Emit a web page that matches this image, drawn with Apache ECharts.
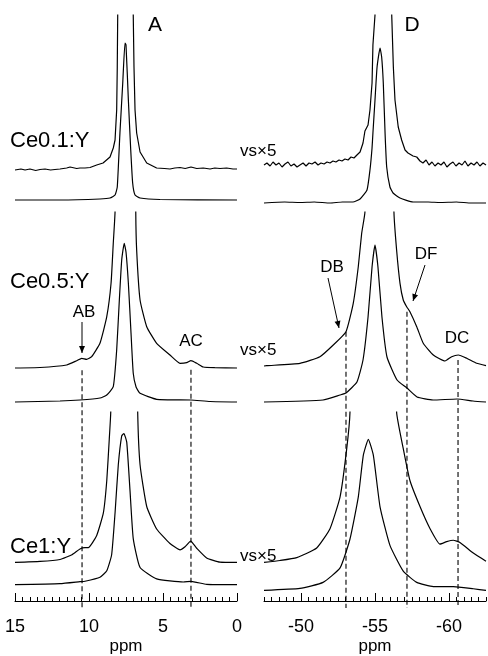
<!DOCTYPE html>
<html>
<head>
<meta charset="utf-8">
<script src="https://cdn.jsdelivr.net/npm/echarts@6/dist/echarts.min.js"></script>
<style>
  html, body { margin: 0; padding: 0; background: #fff; }
  #main { width: 488px; height: 656px; }
</style>
</head>
<body>
<div id="main"></div>
<script>
// spectra: [ppm, intensity]; "Scaled" = vertical scale x5 trace
var a1Normal = [[15,0],[11.96,0],[9.26,1],[8.58,2],[8.24,5],[8.09,13],[7.91,67],[7.72,117],[7.57,157],[7.50,155],[7.34,100],[7.18,50],[7.05,17],[6.89,5],[6.55,2],[5.2,0.5],[0,0]];
var a1Scaled = [[15,0],[14.6,1],[14.32,0],[13.99,1],[13.6,-0.5],[13.31,0.5],[12.97,1],[12.6,0],[12.30,0.5],[11.96,1],[11.51,2],[11.28,3],[10.83,1.5],[10.61,2],[10.27,2],[9.93,2.5],[9.48,5],[9.05,7],[8.58,13],[8.36,22],[8.24,30],[8.13,60],[8.09,103],[8.06,155],[8.04,230],[7.53,900],[7.03,230],[7.01,155],[6.96,103],[6.89,60],[6.78,37],[6.55,18],[6.10,7],[5.43,2],[4.9,1.5],[4.53,1],[4.2,2],[3.85,2.5],[3.5,1.5],[3.11,3],[2.72,1.5],[2.28,2],[1.82,1],[1.5,2],[1.15,1.5],[0.7,2],[0.27,1],[0,1]];
var d1Normal = [[-47.5,0],[-48.9,1],[-49.93,0.5],[-50.9,1],[-51.96,0],[-52.8,1],[-53.51,1],[-53.99,4],[-54.46,13],[-54.66,33],[-54.80,55],[-54.86,70],[-55.00,103],[-55.14,136],[-55.34,155],[-55.45,146],[-55.56,120],[-55.68,70],[-55.79,36],[-56.01,16],[-56.22,10],[-56.69,5],[-57.57,1],[-58.6,1],[-59.39,0.5],[-60.5,1],[-61.5,0],[-62.5,0]];
var d1Scaled = [[-47.5,0],[-47.70,2],[-47.91,-1],[-48.11,3],[-48.31,0],[-48.51,2],[-48.72,-2],[-48.92,1],[-49.12,3],[-49.32,-1],[-49.53,1],[-49.73,-2],[-49.93,0],[-50.14,2],[-50.34,-1],[-50.54,2],[-50.74,1],[-50.95,3],[-51.15,0],[-51.35,2],[-51.56,1],[-51.76,3],[-51.96,2],[-52.16,4],[-52.36,3],[-52.57,5],[-52.77,4],[-52.97,6],[-53.18,5],[-53.38,8],[-53.58,7],[-53.78,10],[-53.99,13],[-54.19,22],[-54.32,34],[-54.53,40],[-54.66,55],[-54.80,82],[-54.86,120],[-55.00,150],[-55.03,230],[-55.5,900],[-56.10,230],[-56.13,150],[-56.24,98],[-56.35,65],[-56.57,38],[-56.80,25],[-57.03,15],[-57.23,12],[-57.36,13],[-57.57,9],[-57.82,8],[-58.04,4],[-58.24,2],[-58.45,5],[-58.65,0],[-58.85,3],[-59.05,-1],[-59.26,2],[-59.46,0],[-59.66,3],[-59.86,-2],[-60.07,1],[-60.27,3],[-60.47,-1],[-60.68,2],[-60.88,0],[-61.08,4],[-61.28,-1],[-61.49,2],[-61.69,0],[-61.89,3],[-62.09,-1],[-62.30,2],[-62.5,0]];
var a2Normal = [[15,0],[11.96,1],[10.61,2],[9.26,4],[8.80,7],[8.36,15.3],[8.13,52],[7.95,102],[7.79,142],[7.62,158.7],[7.50,150],[7.34,118.7],[7.16,68.7],[7.01,28.7],[6.82,15],[6.55,8.7],[5.43,2.7],[3.11,2],[1.82,0.5],[0,0]];
var a2Scaled = [[15,0],[13.31,0.5],[11.51,3],[10.83,7.3],[10.49,9.7],[10.16,8.7],[9.82,11.3],[9.26,24.7],[8.80,51.3],[8.51,84.7],[8.36,124.7],[8.24,156],[8.22,230],[7.60,900],[6.85,230],[6.84,156],[6.78,118],[6.55,68],[6.10,41.3],[5.43,24.7],[4.53,13],[3.85,4.7],[3.40,5.3],[3.11,7.3],[2.72,4.7],[2.28,1],[1.5,0.3],[0,0]];
var d2Normal = [[-47.5,0],[-51.49,2],[-52.64,7],[-53.04,9],[-53.78,20],[-54.19,42],[-54.53,85],[-54.80,135],[-55.00,157],[-55.20,135],[-55.47,85],[-55.81,45],[-56.49,22],[-57.16,14],[-57.84,5],[-58.92,2],[-60.54,3],[-61.62,1],[-62.5,0]];
var d2Scaled = [[-47.5,0],[-47.68,0.3],[-49.93,2.7],[-51.28,9.3],[-52.18,21],[-53.04,34.3],[-53.53,62.7],[-53.87,99.3],[-54.10,132.7],[-54.32,154],[-54.34,230],[-55.30,900],[-56.26,230],[-56.28,154],[-56.46,116],[-56.69,82.7],[-56.91,66],[-57.14,59.3],[-57.36,54.3],[-57.82,39.3],[-58.26,22.7],[-58.94,11],[-59.73,5],[-60.18,9.3],[-60.63,11],[-61.20,7.7],[-61.87,2.7],[-62.5,0.3]];
var a3Normal = [[15,0],[11.96,1],[10.61,3],[10.27,3.5],[9.26,7.7],[8.80,14.3],[8.47,31],[8.24,74.3],[8.02,124.3],[7.79,154.3],[7.64,156.7],[7.45,147.7],[7.23,97.7],[7.01,47.7],[6.55,17.7],[5.43,6],[3.63,2.7],[3.11,3.3],[2.05,0.3],[0,0]];
var a3Scaled = [[15,0],[13.31,1],[11.96,3],[11.15,8],[10.61,14],[10.27,15.3],[10.05,15.3],[9.48,28],[9.03,51.3],[8.80,84.7],[8.63,128],[8.53,156],[8.51,230],[7.60,900],[6.73,230],[6.71,156],[6.55,101.3],[6.10,58],[5.43,34.7],[4.53,19.7],[3.85,13],[3.51,16.3],[3.13,22],[2.72,14.7],[2.05,4.7],[1.15,0.3],[0,0]];
var d3Normal = [[-47.5,0],[-49.93,2],[-51.49,8.3],[-52.64,23.3],[-53.31,53.3],[-53.87,96.7],[-54.21,140],[-54.55,156.7],[-54.89,140],[-55.34,86.7],[-56.01,46.7],[-56.91,20],[-57.82,8.3],[-58.94,4],[-60.29,4],[-61.64,1.7],[-62.5,0]];
var d3Scaled = [[-47.5,0],[-48.58,2],[-49.71,5],[-51.06,15],[-51.96,35],[-52.64,68],[-53.09,118],[-53.31,156],[-53.33,230],[-54.90,1200],[-56.44,230],[-56.46,156],[-56.91,118],[-57.36,85],[-58.04,58],[-58.72,35],[-59.39,19],[-59.84,21.5],[-60.29,23],[-60.74,20.7],[-61.64,9.7],[-62.5,1.3]];

// axis ranges and tick labels
var rangeA = [0, 15];
var rangeD = [-62.5, -47.5];
var labelsA = [15, 10, 5, 0];
var labelsD = [-50, -55, -60];

// marker lines: ppm and the scaled-trace level where the dashes start
var markersA = [{ppm: 10.47, level: 9.7, gap: 12}, {ppm: 3.11, level: 7.3, gap: 9}];
var markersD = [{ppm: -53.04, level: 34.3, gap: 0}, {ppm: -57.16, level: 59.3, gap: 5}, {ppm: -60.61, level: 11, gap: 5}];

var rowNames = ['Ce0.1:Y', 'Ce0.5:Y', 'Ce1:Y'];

var chart = echarts.init(document.getElementById('main'));
var font = '"Liberation Sans", Arial, Helvetica, sans-serif';

var traces = [[a1Normal, a1Scaled], [d1Normal, d1Scaled], [a2Normal, a2Scaled], [d2Normal, d2Scaled], [a3Normal, a3Scaled], [d3Normal, d3Scaled]];
var noisy = [a1Scaled, d1Scaled];
// per panel: top (clip), bottom, baseline of normal and of x5 trace (pixels)
var panels = [
  {left: 15, top: 15, bottom: 204, base: 200, sbase: 170},
  {left: 264, top: 15, bottom: 207, base: 203, sbase: 165},
  {left: 15, top: 212, bottom: 406, base: 402, sbase: 368},
  {left: 264, top: 212, bottom: 406, base: 402, sbase: 366},
  {left: 15, top: 412, bottom: 608, base: 591, sbase: 568},
  {left: 264, top: 412, bottom: 608, base: 597, sbase: 568}
];

function halfSteps(r) {
  var out = [];
  for (var v = r[0]; v <= r[1] + 1e-9; v += 0.5) out.push(Math.round(v * 10) / 10);
  return out;
}

var grid = [], xAxis = [], yAxis = [], series = [];
panels.forEach(function (p, g) {
  var isD = g % 2 === 1;
  var range = isD ? rangeD : rangeA;
  var bottomRow = g >= 4;
  grid.push({left: p.left, width: 222, top: p.top, height: p.bottom - p.top});
  var ax = {
    type: 'value', gridIndex: g, min: range[0], max: range[1], inverse: true,
    show: bottomRow, position: 'bottom', splitLine: {show: false}
  };
  if (bottomRow) {
    ax.axisLine = {show: true, onZero: false, lineStyle: {color: '#000', width: 1}};
    ax.axisTick = {show: true, inside: true, length: 8, customValues: isD ? labelsD : labelsA, lineStyle: {color: '#000'}};
    ax.axisLabel = {show: true, customValues: isD ? labelsD : labelsA, color: '#000', fontSize: 18, fontFamily: font, margin: 17};
    ax.name = 'ppm';
    ax.nameLocation = 'middle';
    ax.nameGap = 37;
    ax.nameTextStyle = {color: '#000', fontSize: 17, fontFamily: font};
  }
  xAxis.push(ax);
  yAxis.push({type: 'value', gridIndex: g, show: false, min: -(p.bottom - p.base), max: p.base - p.top});
  yAxis.push({type: 'value', gridIndex: g, show: false, min: -(p.bottom - p.sbase), max: p.sbase - p.top});
  traces[g].forEach(function (d, k) {
    series.push({
      type: 'line', xAxisIndex: g, yAxisIndex: 2 * g + k, data: d,
      showSymbol: false, smooth: noisy.indexOf(d) >= 0 ? false : 0.15, clip: true,
      lineStyle: {color: '#000', width: 1.2}
    });
  });
});
// minor ticks (every 0.5 ppm) on the two bottom axes
[4, 5].forEach(function (g) {
  var range = g === 5 ? rangeD : rangeA;
  xAxis.push({
    type: 'value', gridIndex: g, min: range[0], max: range[1], inverse: true, position: 'bottom',
    axisLine: {show: false, onZero: false}, splitLine: {show: false},
    axisTick: {show: true, inside: true, length: 4, customValues: halfSteps(range), lineStyle: {color: '#000'}},
    axisLabel: {show: false}
  });
});

chart.setOption({
  animation: false,
  backgroundColor: '#fff',
  grid: grid, xAxis: xAxis, yAxis: yAxis, series: series
});

// annotations
var graphics = [];
function text(str, x, y, size, align) {
  graphics.push({type: 'text', x: x, y: y, silent: true,
    style: {text: str, font: size + 'px ' + font, fill: '#000', align: align || 'center', verticalAlign: 'middle'}});
}
function arrow(x1, y1, x2, y2) {
  graphics.push({type: 'line', silent: true, shape: {x1: x1, y1: y1, x2: x2, y2: y2}, style: {stroke: '#000', lineWidth: 1}});
  var ang = Math.atan2(y2 - y1, x2 - x1), L = 7, W = 3;
  var bx = x2 - L * Math.cos(ang), by = y2 - L * Math.sin(ang);
  graphics.push({type: 'polygon', silent: true, shape: {points: [
    [x2, y2], [bx + W * Math.sin(ang), by - W * Math.cos(ang)], [bx - W * Math.sin(ang), by + W * Math.cos(ang)]
  ]}, style: {fill: '#000'}});
}
function dashes(markers, xIdx, seriesIdx) {
  var yEnd = panels[4].bottom;
  markers.forEach(function (m) {
    var pt = chart.convertToPixel({seriesIndex: seriesIdx}, [m.ppm, m.level]);
    var x = chart.convertToPixel({xAxisIndex: xIdx}, m.ppm);
    graphics.push({type: 'line', silent: true, shape: {x1: x, y1: pt[1] + m.gap, x2: x, y2: yEnd},
      style: {stroke: '#000', lineWidth: 1.1, lineDash: [5, 3]}});
  });
}
dashes(markersA, 4, 5);
dashes(markersD, 5, 7);

text('A', 155, 25, 21);
text('D', 412, 25, 21);
text(rowNames[0], 10, 141, 22, 'left');
text(rowNames[1], 10, 282, 22, 'left');
text(rowNames[2], 10, 547, 22, 'left');
text('vs\u00d75', 240, 151, 17, 'left');
text('vs\u00d75', 240, 350, 17, 'left');
text('vs\u00d75', 240, 556, 17, 'left');
text('AB', 84, 312, 17);
text('AC', 191, 341, 17);
text('DB', 332, 267, 17);
text('DF', 426, 254, 17);
text('DC', 457, 338, 17);
arrow(82, 322, 82, 353);
arrow(328, 278, 339, 328);
arrow(425, 265, 413, 301);

chart.setOption({graphic: graphics});
</script>
</body>
</html>
